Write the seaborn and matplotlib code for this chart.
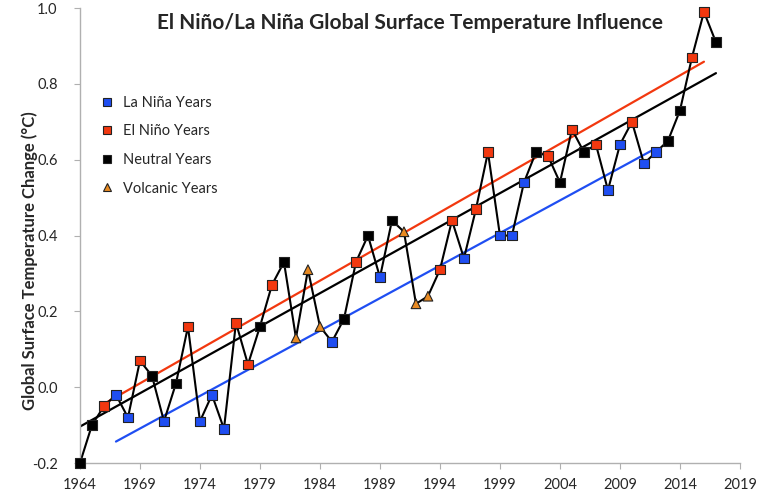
import numpy as np
import pandas as pd
import seaborn as sns
import matplotlib.pyplot as plt

years = list(range(1964, 2018))
temps = [-0.20, -0.10, -0.05, -0.02, -0.08, 0.07, 0.03, -0.09, 0.01, 0.16,
         -0.09, -0.02, -0.11, 0.17, 0.06, 0.16, 0.27, 0.33, 0.13, 0.31,
         0.16, 0.12, 0.18, 0.33, 0.40, 0.29, 0.44, 0.41, 0.22, 0.24,
         0.31, 0.44, 0.34, 0.47, 0.62, 0.40, 0.40, 0.54, 0.62, 0.61,
         0.54, 0.68, 0.62, 0.64, 0.52, 0.64, 0.70, 0.59, 0.62, 0.65,
         0.73, 0.87, 0.99, 0.91]
# N = neutral, E = El Nino, L = La Nina, V = volcanic
kinds = list("NNELLENLNELLLEENENVVVLNENLNVVVEELEELLLNENENELLELLNNEEN")

labels = {"L": "La Niña Years", "E": "El Niño Years",
          "N": "Neutral Years", "V": "Volcanic Years"}
order = ["La Niña Years", "El Niño Years", "Neutral Years", "Volcanic Years"]
colors = {"La Niña Years": "#1f4ef2", "El Niño Years": "#f2380f",
          "Neutral Years": "black", "Volcanic Years": "#e88a22"}
markers = {"La Niña Years": "s", "El Niño Years": "s",
           "Neutral Years": "s", "Volcanic Years": "^"}

df = pd.DataFrame({"year": years, "temp": temps,
                   "kind": [labels[k] for k in kinds]})

sns.set_style("white")
plt.rcParams["font.family"] = ["Lato", "DejaVu Sans"]

fig = plt.figure(figsize=(7.66, 5.01), dpi=100)
ax = fig.add_axes([0.1044, 0.0758, 0.8616, 0.908])

# trend lines for El Nino, La Nina and neutral years
for name in ["El Niño Years", "La Niña Years", "Neutral Years"]:
    sns.regplot(data=df[df.kind == name], x="year", y="temp", ci=None,
                scatter=False, color=colors[name], line_kws={"lw": 1.6}, ax=ax)

sns.lineplot(data=df, x="year", y="temp", color="black", lw=1.5, ax=ax)
sns.scatterplot(data=df, x="year", y="temp", hue="kind", style="kind",
                hue_order=order, style_order=order, palette=colors,
                markers=markers, s=48, edgecolor="#222222", linewidth=0.8,
                zorder=5, clip_on=False, ax=ax)

ax.set_xlim(1964, 2019)
ax.set_ylim(-0.2, 1.0)
ax.set_xticks(range(1964, 2020, 5))
ax.set_yticks(np.arange(-0.2, 1.01, 0.2))
ax.set_yticklabels([f"{v:.1f}" for v in np.arange(-0.2, 1.01, 0.2)])
ax.tick_params(axis="both", labelsize=10.5, length=4, color="#b0b0b0",
               direction="out", left=True, bottom=True)
ax.tick_params(axis="y", pad=12)
ax.tick_params(axis="x", pad=7)
for side in ["top", "right"]:
    ax.spines[side].set_visible(False)
for side in ["left", "bottom"]:
    ax.spines[side].set_color("#b0b0b0")
    ax.spines[side].set_linewidth(1.0)

ax.set_xlabel("")
ax.set_ylabel("Global Surface Temperature Change (°C)", fontsize=12,
              fontweight="bold")
ax.yaxis.set_label_coords(-0.064, 0.446)
ax.set_title("El Niño/La Niña Global Surface Temperature Influence",
             fontsize=15, fontweight="bold", y=0.935)

leg = ax.legend(loc="upper left", bbox_to_anchor=(0.01, 0.82), frameon=False,
                fontsize=10.5, handletextpad=0.1, labelspacing=1.0,
                markerscale=0.9, borderaxespad=0)

fig.savefig("out.png", dpi=100)
